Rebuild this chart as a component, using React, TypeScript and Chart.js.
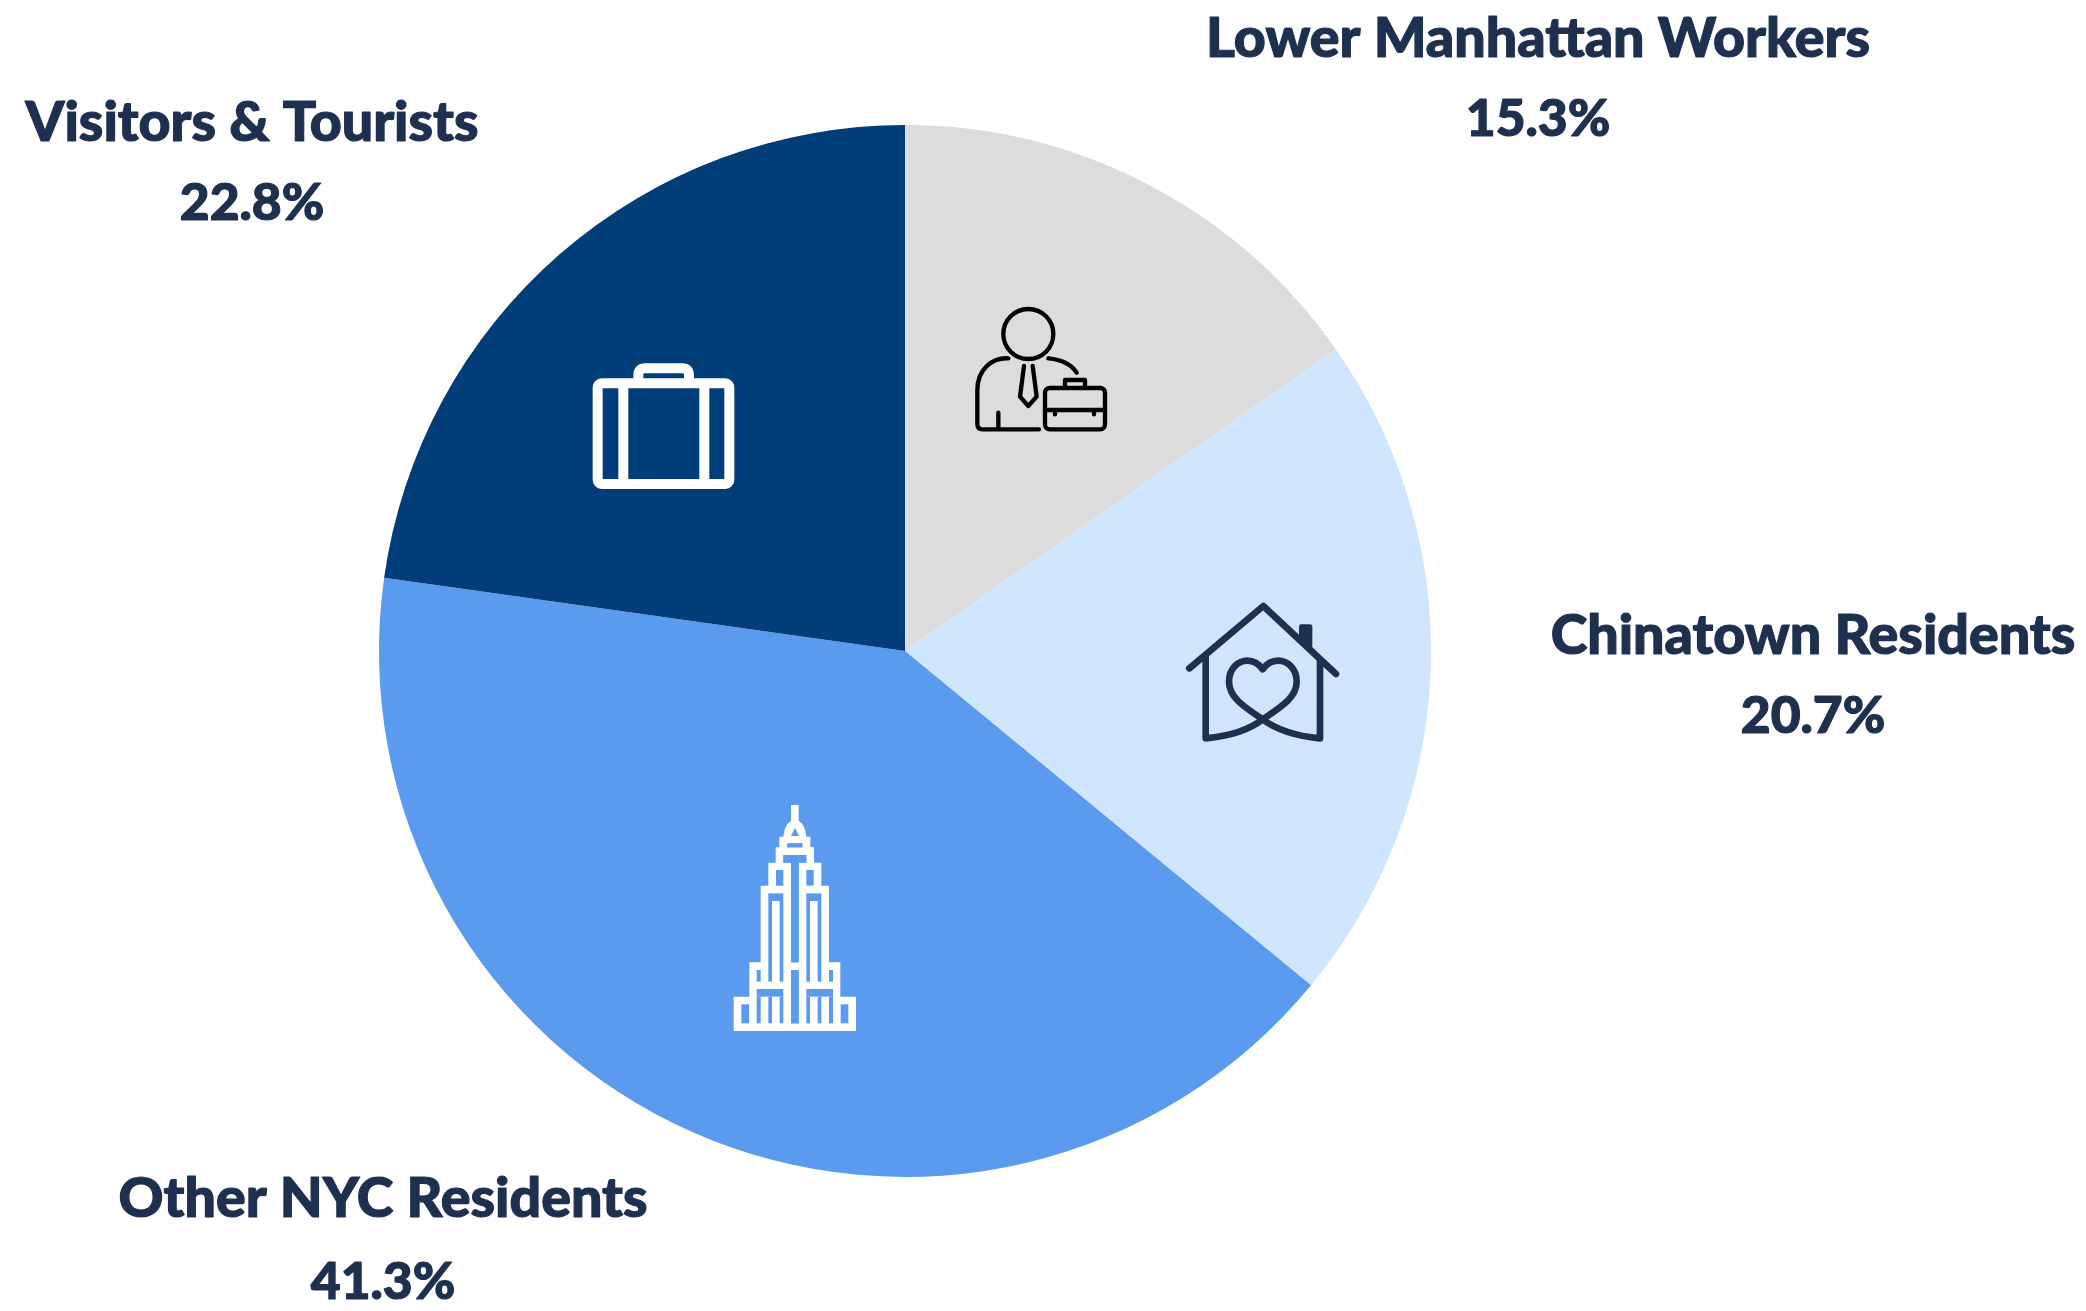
import React, { useEffect, useRef } from "react";
import { Chart, registerables } from "chart.js";

Chart.register(...registerables);

const categories = ["Lower Manhattan Workers", "Chinatown Residents", "Other NYC Residents", "Visitors & Tourists"];
const shares = [15.3, 20.7, 41.3, 22.8];
const shareLabels = ["15.3%", "20.7%", "41.3%", "22.8%"];
const sliceColors = ["#DCDCDC", "#D0E6FF", "#5A9BF0", "#003D79"];
const INK = "#1E3050";
const WIDTH = 2086;
const HEIGHT = 1311;

// label anchors: [centre x, name baseline, share baseline]
const labelAnchors = [
  [1538, 57, 136],
  [1813, 654, 733],
  [383, 1217, 1299],
  [252, 141, 220],
];

function drawWorker(ctx: CanvasRenderingContext2D) {
  ctx.save();
  ctx.translate(900, 270);
  ctx.scale(1 / 3, 1 / 3);
  ctx.strokeStyle = "#000";
  ctx.lineWidth = 13;
  ctx.lineCap = "round";
  ctx.lineJoin = "round";
  ctx.beginPath();
  ctx.arc(385, 192, 75, 0, Math.PI * 2);
  ctx.moveTo(325, 265);
  ctx.bezierCurveTo(275, 262, 232, 300, 232, 360);
  ctx.lineTo(232, 462);
  ctx.quadraticCurveTo(232, 478, 248, 478);
  ctx.lineTo(417, 478);
  ctx.moveTo(445, 265);
  ctx.bezierCurveTo(480, 268, 512, 280, 530, 308);
  ctx.moveTo(372, 288);
  ctx.lineTo(360, 380);
  ctx.lineTo(385, 408);
  ctx.lineTo(410, 380);
  ctx.lineTo(398, 288);
  ctx.moveTo(295, 428);
  ctx.lineTo(295, 478);
  ctx.moveTo(495, 350);
  ctx.lineTo(495, 330);
  ctx.lineTo(555, 330);
  ctx.lineTo(555, 350);
  ctx.moveTo(435, 420);
  ctx.lineTo(615, 420);
  ctx.moveTo(465, 420);
  ctx.lineTo(465, 433);
  ctx.moveTo(582, 420);
  ctx.lineTo(582, 433);
  ctx.stroke();
  ctx.beginPath();
  ctx.roundRect(435, 354, 180, 124, 14);
  ctx.stroke();
  ctx.restore();
}

function drawHouse(ctx: CanvasRenderingContext2D) {
  ctx.save();
  ctx.translate(1150, 580);
  ctx.scale(1 / 3, 1 / 3);
  ctx.strokeStyle = INK;
  ctx.fillStyle = INK;
  ctx.lineWidth = 20;
  ctx.lineCap = "round";
  ctx.lineJoin = "round";
  ctx.beginPath();
  ctx.moveTo(447, 170);
  ctx.lineTo(447, 140);
  ctx.quadraticCurveTo(447, 133, 454, 133);
  ctx.lineTo(480, 133);
  ctx.quadraticCurveTo(487, 133, 487, 140);
  ctx.lineTo(487, 210);
  ctx.closePath();
  ctx.fill();
  ctx.beginPath();
  ctx.moveTo(118, 265);
  ctx.lineTo(340, 78);
  ctx.lineTo(558, 282);
  ctx.moveTo(167, 228);
  ctx.lineTo(167, 475);
  ctx.bezierCurveTo(240, 468, 300, 448, 338, 418);
  ctx.bezierCurveTo(290, 385, 237, 355, 237, 305);
  ctx.bezierCurveTo(237, 265, 265, 242, 292, 242);
  ctx.bezierCurveTo(312, 242, 328, 254, 338, 268);
  ctx.bezierCurveTo(348, 254, 364, 242, 384, 242);
  ctx.bezierCurveTo(412, 242, 440, 265, 440, 305);
  ctx.bezierCurveTo(440, 355, 386, 385, 338, 418);
  ctx.bezierCurveTo(378, 448, 438, 468, 510, 475);
  ctx.lineTo(510, 240);
  ctx.stroke();
  ctx.restore();
}

function drawTower(ctx: CanvasRenderingContext2D) {
  const axis = 284.5;
  const left = [
    [273, 45], [273, 92], [262, 102], [254, 118], [250, 140], [238, 140], [238, 172], [227, 172], [227, 218],
    [205, 218], [205, 287], [182, 287], [182, 517], [148, 517], [148, 620], [101, 620], [101, 723],
  ];
  const holes = [
    [262, 160, 307, 172], [250, 195, 319, 218], [273, 218, 296, 517], [273, 540, 296, 700],
    [228, 240, 250, 287], [205, 310, 250, 333], [205, 333, 216, 575], [239, 333, 250, 575],
    [170, 540, 182, 575], [170, 597, 250, 620], [170, 620, 182, 700], [205, 620, 216, 700],
    [239, 620, 250, 700], [124, 643, 147, 700],
  ];
  ctx.save();
  ctx.translate(700, 790);
  ctx.scale(1 / 3, 1 / 3);
  ctx.fillStyle = "#fff";
  ctx.beginPath();
  left.forEach(([x, y], i) => (i ? ctx.lineTo(x, y) : ctx.moveTo(x, y)));
  [...left].reverse().forEach(([x, y]) => ctx.lineTo(2 * axis - x, y));
  ctx.closePath();
  ctx.fill();
  ctx.fillStyle = sliceColors[2];
  ctx.beginPath();
  ctx.moveTo(273, 138);
  ctx.lineTo(285, 113);
  ctx.lineTo(297, 138);
  ctx.closePath();
  ctx.fill();
  holes.forEach(([x0, y0, x1, y1]) => {
    ctx.fillRect(x0, y0, x1 - x0, y1 - y0);
    const mx0 = 2 * axis - x1;
    ctx.fillRect(mx0, y0, x1 - x0, y1 - y0);
  });
  ctx.restore();
}

function drawCase(ctx: CanvasRenderingContext2D) {
  ctx.save();
  ctx.translate(570, 340);
  ctx.scale(1 / 3, 1 / 3);
  ctx.strokeStyle = "#fff";
  ctx.lineWidth = 30;
  ctx.lineJoin = "round";
  ctx.beginPath();
  ctx.roundRect(83, 130, 395, 302, 12);
  ctx.moveTo(160, 130);
  ctx.lineTo(160, 432);
  ctx.moveTo(403, 130);
  ctx.lineTo(403, 432);
  ctx.moveTo(205, 125);
  ctx.lineTo(205, 105);
  ctx.quadraticCurveTo(205, 85, 225, 85);
  ctx.lineTo(337, 85);
  ctx.quadraticCurveTo(357, 85, 357, 105);
  ctx.lineTo(357, 125);
  ctx.stroke();
  ctx.restore();
}

function heavyText(ctx: CanvasRenderingContext2D, text: string, x: number, y: number, font: string) {
  ctx.font = font;
  ctx.fillText(text, x, y);
  ctx.strokeText(text, x, y);
}

const decorations = {
  id: "decorations",
  afterDatasetsDraw(chart: Chart) {
    const ctx = chart.ctx;
    drawWorker(ctx);
    drawHouse(ctx);
    drawTower(ctx);
    drawCase(ctx);
    ctx.save();
    ctx.fillStyle = INK;
    ctx.strokeStyle = INK;
    ctx.lineWidth = 1.2;
    ctx.lineJoin = "round";
    ctx.textAlign = "center";
    ctx.textBaseline = "alphabetic";
    categories.forEach((name, i) => {
      const [x, nameY, shareY] = labelAnchors[i];
      heavyText(ctx, name, x, nameY, "900 55.5px Lato");
      heavyText(ctx, shareLabels[i], x, shareY, "900 51.5px Lato");
    });
    ctx.restore();
  },
};

export default function App() {
  const ref = useRef<HTMLCanvasElement | null>(null);
  useEffect(() => {
    const chart = new Chart(ref.current!, {
      type: "pie",
      data: {
        labels: categories,
        datasets: [{ data: shares, backgroundColor: sliceColors, borderWidth: 0 }],
      },
      options: {
        animation: false,
        responsive: false,
        maintainAspectRatio: false,
        layout: { padding: { left: 379, right: 655, top: 125, bottom: 134 } },
        plugins: { legend: { display: false }, tooltip: { enabled: false } },
      },
      plugins: [decorations],
    });
    return () => chart.destroy();
  }, []);
  return (
    <div style={{ position: "absolute", left: 0, top: 0, width: WIDTH, height: HEIGHT, background: "#fff" }}>
      <canvas ref={ref} width={WIDTH} height={HEIGHT} style={{ display: "block" }} />
    </div>
  );
}
